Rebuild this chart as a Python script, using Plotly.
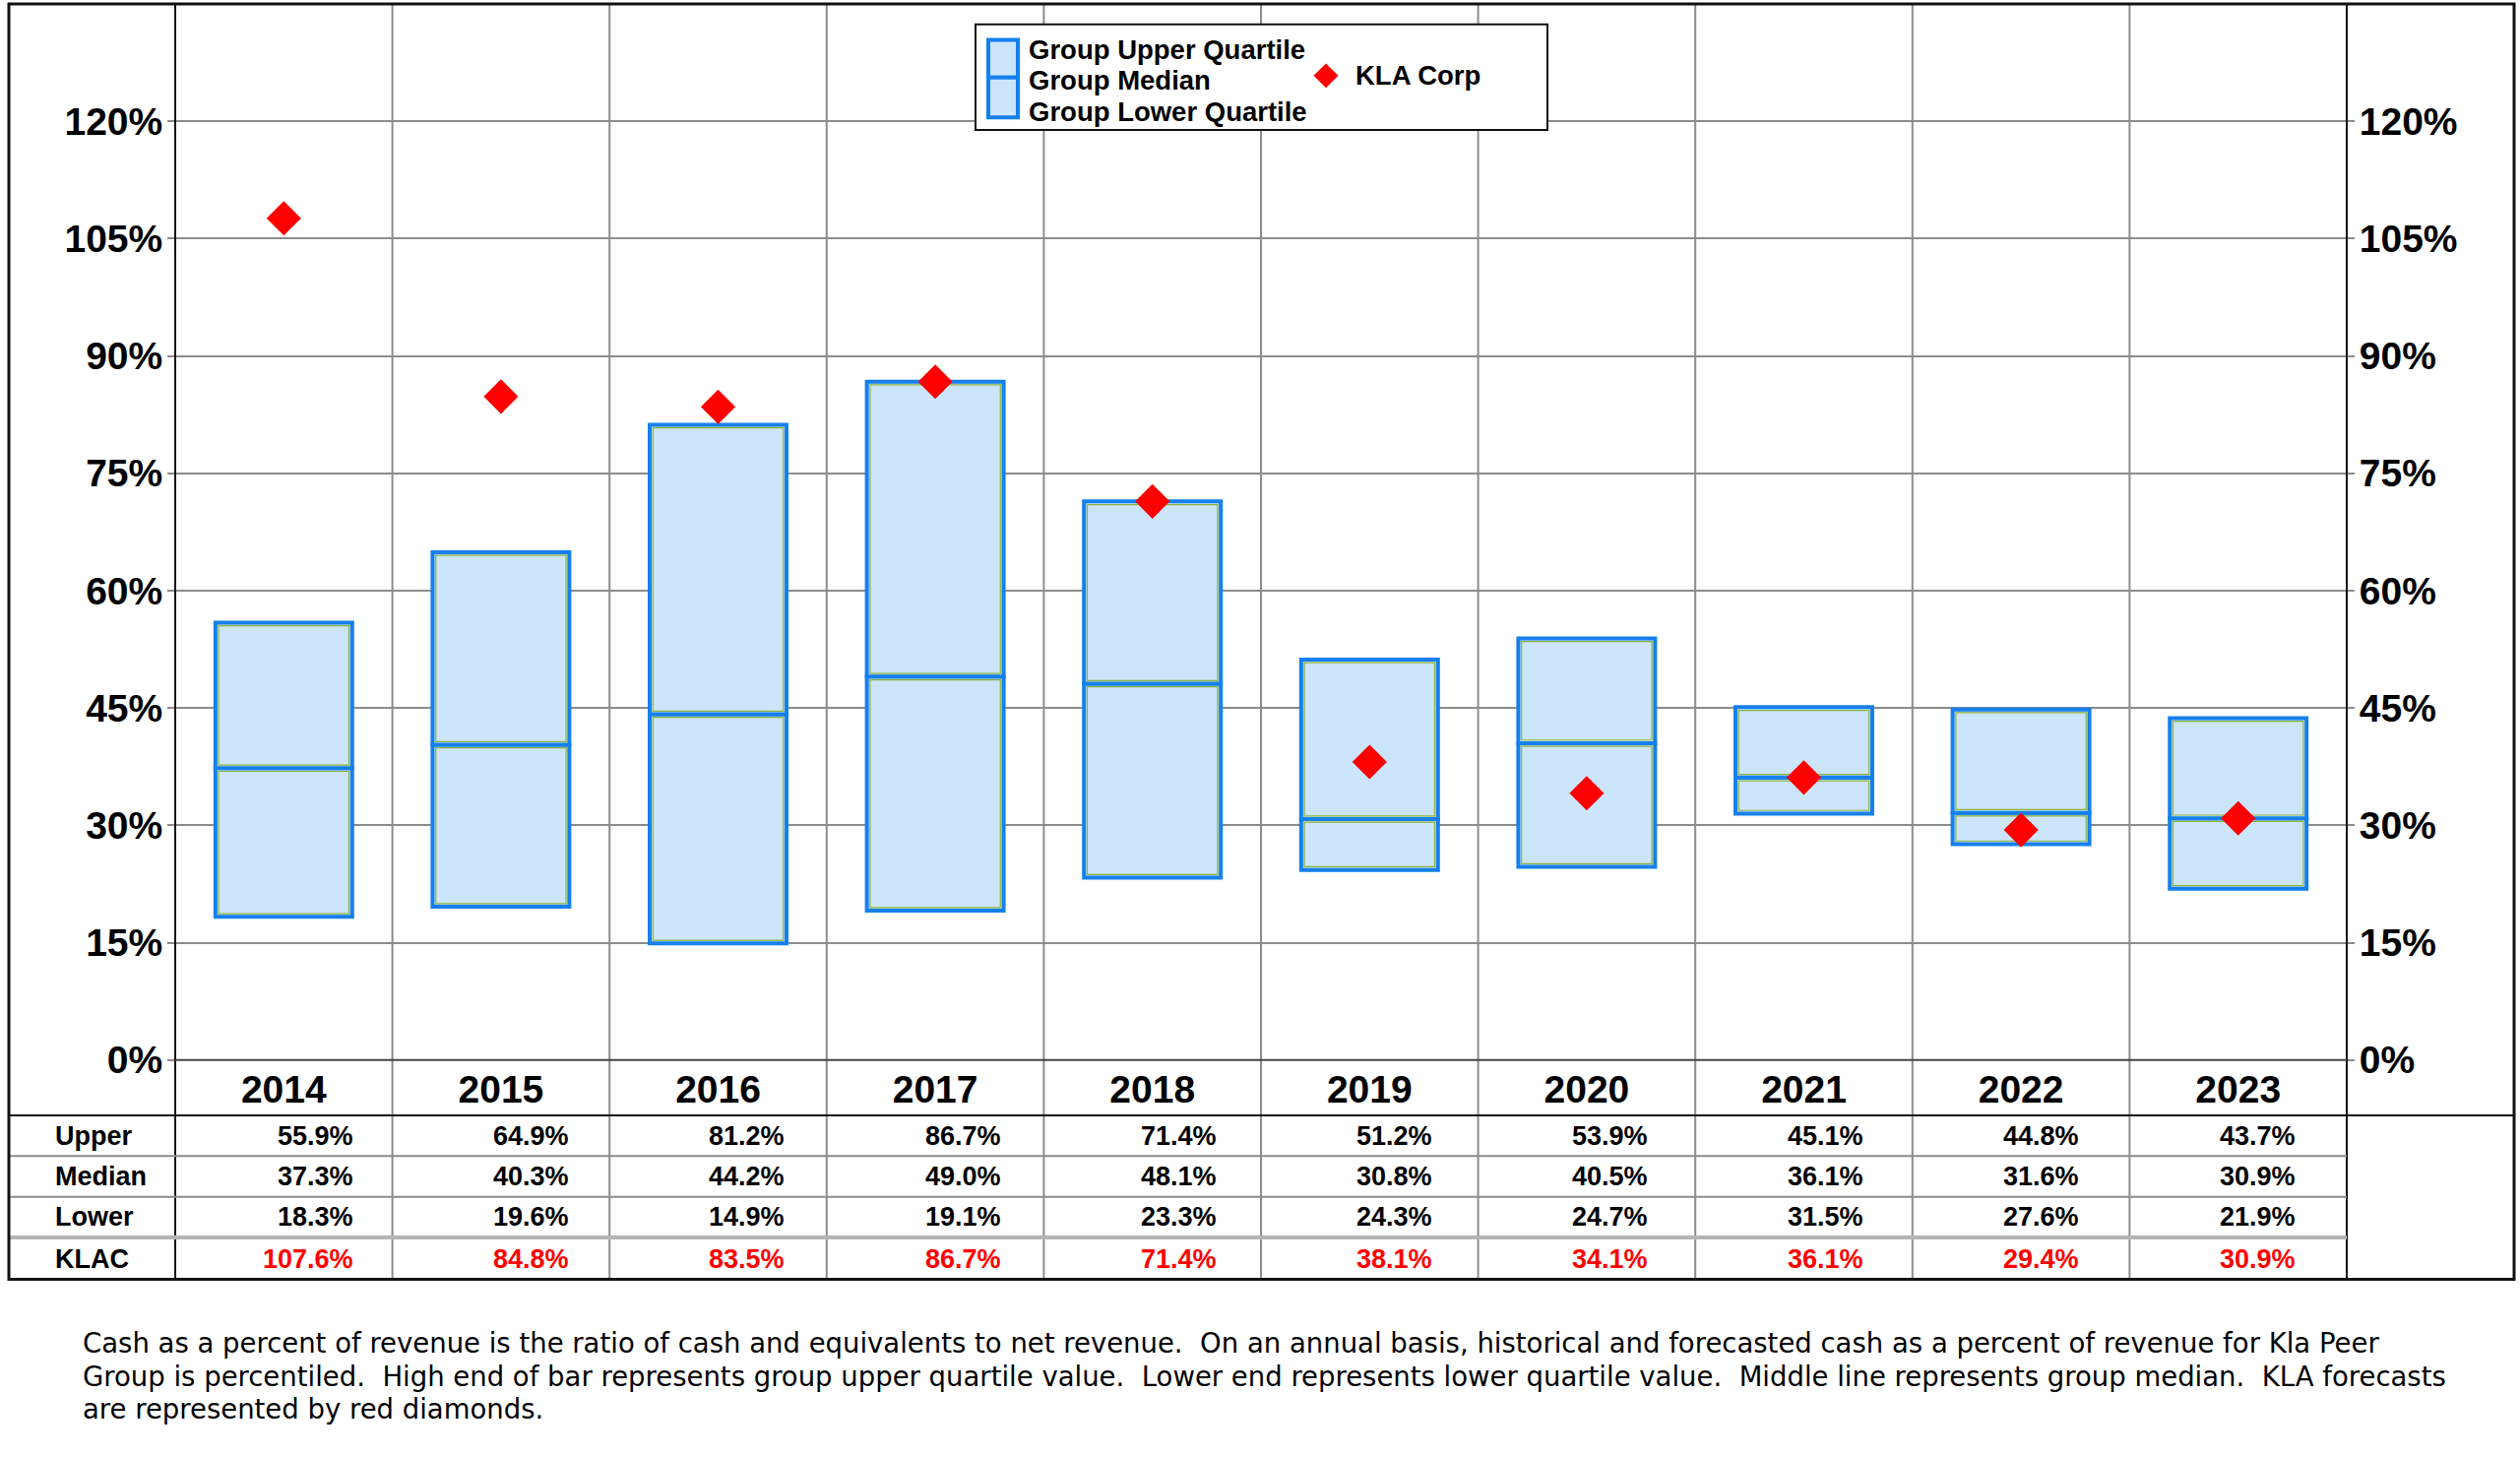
import plotly.graph_objects as go

# ---------------- data ----------------
years = ["2014", "2015", "2016", "2017", "2018", "2019", "2020", "2021", "2022", "2023"]
upper = [55.9, 64.9, 81.2, 86.7, 71.4, 51.2, 53.9, 45.1, 44.8, 43.7]
median = [37.3, 40.3, 44.2, 49.0, 48.1, 30.8, 40.5, 36.1, 31.6, 30.9]
lower = [18.3, 19.6, 14.9, 19.1, 23.3, 24.3, 24.7, 31.5, 27.6, 21.9]
klac = [107.6, 84.8, 83.5, 86.7, 71.4, 38.1, 34.1, 36.1, 29.4, 30.9]
y_ticks = [0, 15, 30, 45, 60, 75, 90, 105, 120]
row_labels = ["Upper", "Median", "Lower", "KLAC"]
legend_lines = ["Group Upper Quartile", "Group Median", "Group Lower Quartile"]
legend_kla = "KLA Corp"
footnote = [
    "Cash as a percent of revenue is the ratio of cash and equivalents to net revenue. \u00a0On an annual basis, historical and forecasted cash as a percent of revenue for Kla Peer",
    "Group is percentiled. \u00a0High end of bar represents group upper quartile value. \u00a0Lower end represents lower quartile value. \u00a0Middle line represents group median. \u00a0KLA forecasts",
    "are represented by red diamonds.",
]

# ---------------- style ----------------
W, H = 2560, 1480
BOLD = "Liberation Sans"
FILL = "#CCE5FA"
EDGE = "#1580EE"
INNER = "#8DB33A"
GRID = "#8C8C8C"
RED = "#FF0000"
BAR_W = 0.63
INNER_W = 0.60
INSET = 0.4  # in % units


def px(x):
    return x / W


def py(y):
    return 1 - y / H


idx = list(range(len(years)))

fig = go.Figure()

# lower half of box (lower quartile -> median)
fig.add_trace(go.Bar(
    x=idx, base=lower, y=[m - l for m, l in zip(median, lower)],
    width=BAR_W, marker=dict(color=FILL, line=dict(color=EDGE, width=4)),
    showlegend=False, hoverinfo="skip"))
# upper half of box (median -> upper quartile)
fig.add_trace(go.Bar(
    x=idx, base=median, y=[u - m for u, m in zip(upper, median)],
    width=BAR_W, marker=dict(color=FILL, line=dict(color=EDGE, width=4)),
    showlegend=False, hoverinfo="skip"))
# thin inner outlines
fig.add_trace(go.Bar(
    x=idx, base=[l + INSET for l in lower], y=[m - l - 2 * INSET for m, l in zip(median, lower)],
    width=INNER_W, marker=dict(color="rgba(0,0,0,0)", line=dict(color=INNER, width=1.2)),
    showlegend=False, hoverinfo="skip"))
fig.add_trace(go.Bar(
    x=idx, base=[m + INSET for m in median], y=[u - m - 2 * INSET for u, m in zip(upper, median)],
    width=INNER_W, marker=dict(color="rgba(0,0,0,0)", line=dict(color=INNER, width=1.2)),
    showlegend=False, hoverinfo="skip"))
# KLA diamonds
fig.add_trace(go.Scatter(
    x=idx, y=klac, mode="markers", yaxis="y2",
    marker=dict(symbol="diamond", size=27, color=RED, line=dict(width=0)),
    showlegend=False, name="KLA Corp"))

shapes = []
# column boundaries (grid) through plot and table
for i in idx[:-1]:
    shapes.append(dict(type="line", xref="x", yref="paper", x0=i + 0.5, x1=i + 0.5,
                       y0=py(1319), y1=py(4), line=dict(color=GRID, width=2), layer="below"))
# plot left/right borders
for xp in (178, 2384):
    shapes.append(dict(type="line", xref="paper", yref="paper", x0=px(xp), x1=px(xp),
                       y0=py(1319), y1=py(4), line=dict(color="#111111", width=2)))
# zero line / top of year row
shapes.append(dict(type="line", xref="paper", yref="paper", x0=px(178), x1=px(2384),
                   y0=py(1093), y1=py(1093), line=dict(color="#444444", width=2)))
# year row bottom (full width)
shapes.append(dict(type="line", xref="paper", yref="paper", x0=px(9), x1=px(2554),
                   y0=py(1150), y1=py(1150), line=dict(color="#111111", width=2)))
# table inner rows
for yy in (1192, 1234):
    shapes.append(dict(type="line", xref="paper", yref="paper", x0=px(9), x1=px(2384),
                       y0=py(yy), y1=py(yy), line=dict(color=GRID, width=2)))
shapes.append(dict(type="line", xref="paper", yref="paper", x0=px(9), x1=px(2384),
                   y0=py(1276), y1=py(1276), line=dict(color="#B4B4B4", width=4)))
# outer border
shapes.append(dict(type="rect", xref="paper", yref="paper", x0=px(9), x1=px(2554),
                   y0=py(1319), y1=py(4), line=dict(color="#111111", width=3)))

# legend box
shapes.append(dict(type="rect", xref="paper", yref="paper", x0=px(991), x1=px(1572),
                   y0=py(134), y1=py(25), line=dict(color="#111111", width=2),
                   fillcolor="white", layer="above"))
# legend icon (two stacked boxes)
for (t, b) in ((41, 80), (80, 121)):
    shapes.append(dict(type="rect", xref="paper", yref="paper", x0=px(1004), x1=px(1034),
                       y0=py(b), y1=py(t), line=dict(color=EDGE, width=4),
                       fillcolor=FILL, layer="above"))
# legend diamond swatch
cx, cy, r = 1347, 78, 12.5
shapes.append(dict(type="path", xref="paper", yref="paper",
                   path=f"M {px(cx - r)},{py(cy)} L {px(cx)},{py(cy - r)} L {px(cx + r)},{py(cy)} L {px(cx)},{py(cy + r)} Z",
                   fillcolor=RED, line=dict(width=0), layer="above"))

annotations = []
# legend text
for txt, yy in zip(legend_lines, (51, 83, 115)):
    annotations.append(dict(text=txt, xref="paper", yref="paper", x=px(1043), y=py(yy),
                            xanchor="left", yanchor="middle", showarrow=False,
                            font=dict(family=BOLD, size=27.5, color="black", weight="bold")))
annotations.append(dict(text=legend_kla, xref="paper", yref="paper", x=px(1375), y=py(78),
                        xanchor="left", yanchor="middle", showarrow=False,
                        font=dict(family=BOLD, size=27.5, color="black", weight="bold")))

# table
row_y = [1171, 1213, 1255, 1298]
row_vals = [upper, median, lower, klac]
row_colors = ["black", "black", "black", RED]
for lab, yy in zip(row_labels, row_y):
    annotations.append(dict(text=lab, xref="paper", yref="paper", x=px(54), y=py(yy),
                            xanchor="left", yanchor="middle", showarrow=False,
                            font=dict(family=BOLD, size=27, color="black", weight="bold")))
for vals, yy, col in zip(row_vals, row_y, row_colors):
    for i, v in zip(idx, vals):
        annotations.append(dict(text=f"{v:.1f}%", xref="x", yref="paper",
                                x=i + 0.33 - 0.0065 * i, y=py(yy),
                                xanchor="right", yanchor="middle", showarrow=False,
                                font=dict(family=BOLD, size=27, color=col, weight="bold")))

# footnote
for txt, yy in zip(footnote, (1385, 1419, 1453)):
    annotations.append(dict(text=txt, xref="paper", yref="paper", x=px(82), y=py(yy),
                            xanchor="left", yanchor="middle", showarrow=False,
                            font=dict(family="DejaVu Sans", size=27.5, color="black")))

tick_font = dict(family=BOLD, size=39, color="black", weight="bold")
yaxis_common = dict(range=[0, 135], tickvals=y_ticks, ticktext=[f"{t}%" for t in y_ticks],
                    ticks="outside", ticklen=7, tickwidth=2, tickcolor=GRID,
                    tickfont=tick_font, zeroline=False, showline=False,
                    domain=[py(1093), py(4)], fixedrange=True)

fig.update_layout(
    width=W, height=H,
    margin=dict(l=0, r=0, t=0, b=0),
    paper_bgcolor="white", plot_bgcolor="white",
    barmode="overlay",
    showlegend=False,
    xaxis=dict(domain=[px(178), px(2384)], range=[-0.5, 9.5], tickvals=idx, ticktext=years,
               ticks="", showgrid=False, zeroline=False, showline=False,
               tickfont=dict(family=BOLD, size=39, color="black", weight="bold"),
               ticklabelstandoff=3, fixedrange=True),
    yaxis=dict(**yaxis_common, side="left", showgrid=True, gridcolor=GRID, gridwidth=2,
               ticklabelstandoff=-3),
    yaxis2=dict(**yaxis_common, side="right", overlaying="y", showgrid=False,
                ticklabelstandoff=-3),
    shapes=shapes,
    annotations=annotations,
)

fig.write_html("out.html",
               config={"displayModeBar": False},
               post_script="document.body.style.margin='0px';document.body.style.overflow='hidden';")
